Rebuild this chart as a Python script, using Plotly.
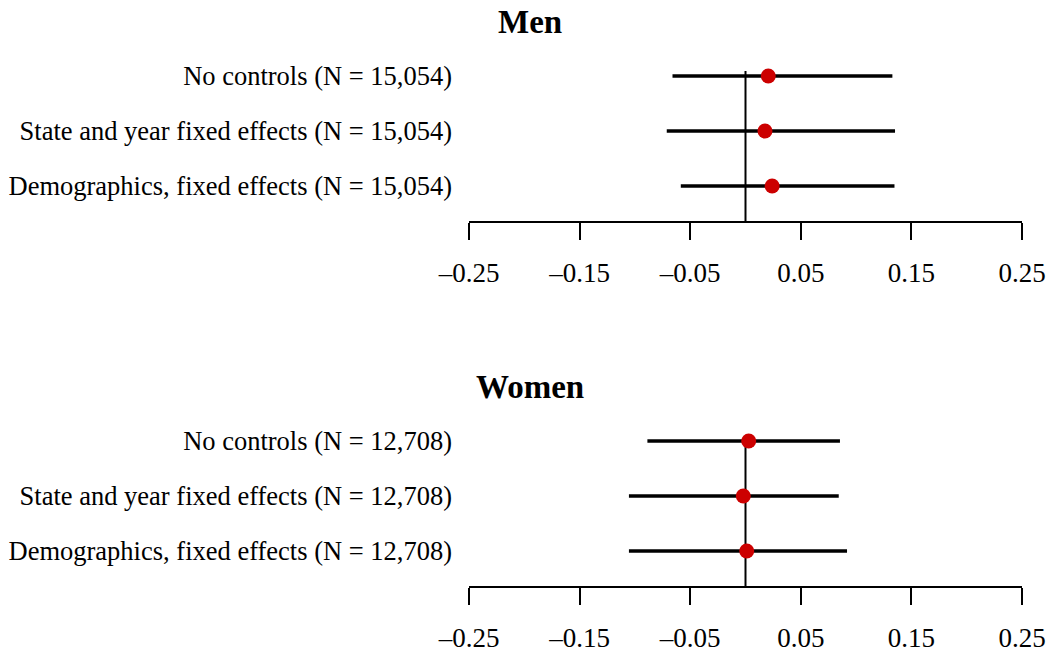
import plotly.graph_objects as go

# ---- data ----
men_labels = ["No controls (N = 15,054)",
              "State and year fixed effects (N = 15,054)",
              "Demographics, fixed effects (N = 15,054)"]
men_est = [0.0206, 0.0176, 0.0241]
men_lo = [-0.0660, -0.0712, -0.0585]
men_hi = [0.1328, 0.1352, 0.1347]

women_labels = ["No controls (N = 12,708)",
                "State and year fixed effects (N = 12,708)",
                "Demographics, fixed effects (N = 12,708)"]
women_est = [0.0029, -0.0020, 0.0011]
women_lo = [-0.0887, -0.1054, -0.1054]
women_hi = [0.0854, 0.0843, 0.0918]

tick_vals = [-0.25, -0.15, -0.05, 0.05, 0.15, 0.25]
tick_text = ["\u20130.25", "\u20130.15", "\u20130.05", "0.05", "0.15", "0.25"]

FONT = "Liberation Serif"
fig = go.Figure()

panels = [
    ("Men", men_labels, men_est, men_lo, men_hi, "x", "y"),
    ("Women", women_labels, women_est, women_lo, women_hi, "x2", "y2"),
]

for title, labels, est, lo, hi, xa, ya in panels:
    fig.add_trace(go.Scatter(
        x=est, y=labels, mode="markers",
        marker=dict(color="#CC0000", size=15),
        error_x=dict(type="data", symmetric=False,
                     array=[h - e for h, e in zip(hi, est)],
                     arrayminus=[e - l for e, l in zip(est, lo)],
                     color="black", thickness=3.5, width=0),
        xaxis=xa, yaxis=ya, showlegend=False, hoverinfo="skip"))

yrange = [-35 / 55, 2 + 19 / 55]
zero_top = (2 + 5 / 55 - yrange[0]) / (yrange[1] - yrange[0])

BOTTOM = 586  # screen y of the lower plot-area edge
H = float(BOTTOM)  # plot-area height (t=0)

def py(screen_y):
    return 1 - screen_y / H

axis_common = dict(range=[-0.25, 0.25], showline=True, linecolor="black", linewidth=1.5,
                   ticks="outside", ticklen=17, tickwidth=1.5, tickcolor="black",
                   tickvals=tick_vals, ticktext=tick_text, showgrid=False, zeroline=False,
                   tickfont=dict(family=FONT, size=27, color="black"),
                   ticklabelstandoff=10)

ycommon = dict(type="category", categoryorder="array", range=yrange, showline=False,
               showgrid=False, zeroline=False, ticks="", ticklabelstandoff=16,
               tickfont=dict(family=FONT, size=26.5, color="black"))

fig.update_layout(
    width=1054, height=656,
    margin=dict(l=469, r=1054 - 1022, t=0, b=656 - BOTTOM),
    plot_bgcolor="white", paper_bgcolor="white",
    xaxis=dict(anchor="y", domain=[0, 1], **axis_common),
    xaxis2=dict(anchor="y2", domain=[0, 1], **axis_common),
    yaxis=dict(domain=[py(221), py(57)], categoryarray=men_labels[::-1], **ycommon),
    yaxis2=dict(domain=[0, py(422)], categoryarray=women_labels[::-1], **ycommon),
    font=dict(family=FONT, color="black"),
)

for xa, ya in [("x", "y"), ("x2", "y2")]:
    fig.add_shape(type="line", xref=xa, yref=ya + " domain", x0=0, x1=0, y0=0, y1=zero_top,
                  line=dict(color="black", width=2), layer="below")

title_x = (530 - 469) / 553
fig.add_annotation(text="<b>Men</b>", xref="paper", yref="paper", x=title_x, y=py(22),
                   xanchor="center", yanchor="middle", showarrow=False,
                   font=dict(family=FONT, size=33, color="black"))
fig.add_annotation(text="<b>Women</b>", xref="paper", yref="paper", x=title_x, y=py(387),
                   xanchor="center", yanchor="middle", showarrow=False,
                   font=dict(family=FONT, size=33, color="black"))

fig.write_html("out.html", config={"displayModeBar": False},
               post_script="document.body.style.margin='0px';document.body.style.overflow='hidden';")
